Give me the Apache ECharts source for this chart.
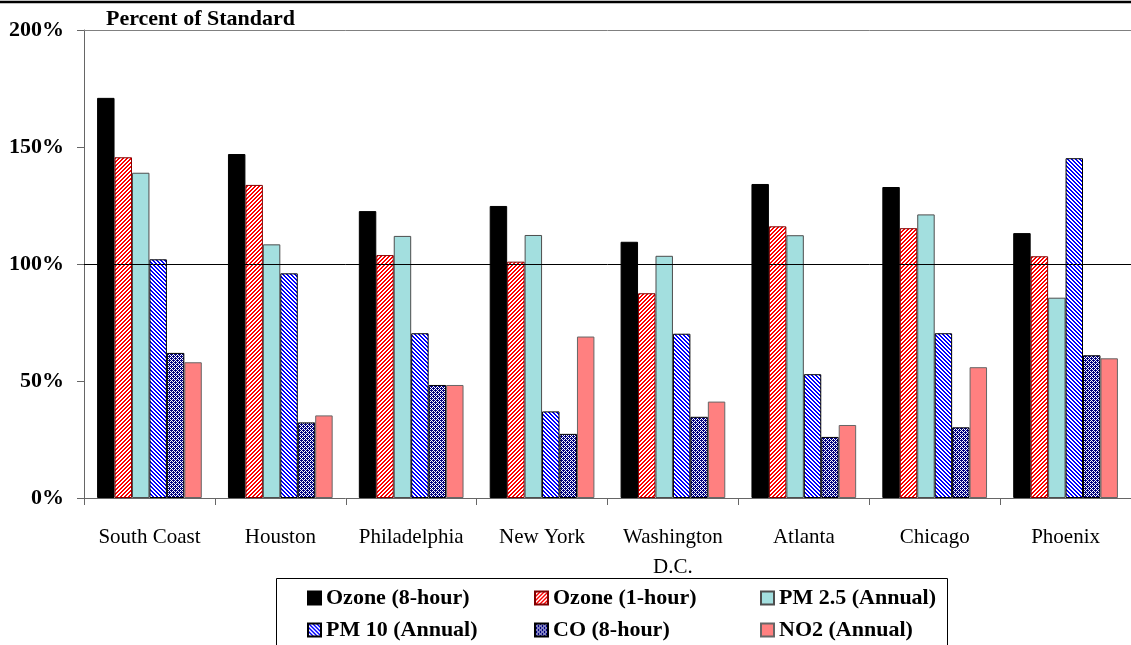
<!DOCTYPE html>
<html>
<head>
<meta charset="utf-8">
<script src="https://cdn.jsdelivr.net/npm/echarts@6/dist/echarts.min.js"></script>
<style>
html,body{margin:0;padding:0;background:#fff;}
#chart{width:1131px;height:645px;}
</style>
</head>
<body>
<div id="chart"></div>
<script>
// ---- data ----
var categories = ['South Coast', 'Houston', 'Philadelphia', 'New York', 'Washington\nD.C.', 'Atlanta', 'Chicago', 'Phoenix'];
var seriesNames = ['Ozone (8-hour)', 'Ozone (1-hour)', 'PM 2.5 (Annual)', 'PM 10 (Annual)', 'CO (8-hour)', 'NO2 (Annual)'];
var ozone8 = [171, 147, 122.6, 124.8, 109.5, 134.2, 132.9, 113.2];
var ozone1 = [145.6, 133.8, 103.8, 101, 87.5, 116.1, 115.3, 103.3];
var pm25   = [139, 108.4, 112, 112.4, 103.5, 112.3, 121.2, 85.6];
var pm10   = [102, 96, 70.4, 37, 70.2, 52.9, 70.4, 145.2];
var co8    = [62, 32.3, 48.3, 27.4, 34.7, 26.1, 30.2, 61];
var no2    = [58, 35.3, 48.3, 69, 41.2, 31.2, 55.9, 59.7];
var yTicks = [0, 50, 100, 150, 200];
var standardLevel = 100;
var axisTop = 200;

// ---- patterns ----
function makePattern(size, fg, bg, test) {
  var c = document.createElement('canvas');
  c.width = size; c.height = size;
  var ctx = c.getContext('2d');
  ctx.fillStyle = bg; ctx.fillRect(0, 0, size, size);
  ctx.fillStyle = fg;
  for (var x = 0; x < size; x++) for (var y = 0; y < size; y++) {
    if (test(x, y)) ctx.fillRect(x, y, 1, 1);
  }
  return { image: c, repeat: 'repeat' };
}
var redStripe = makePattern(4, '#ff0000', '#ffffff', function (x, y) { return (x + y) % 4 < 2; });
var blueStripe = makePattern(4, '#0000ff', '#ffffff', function (x, y) { return ((x - y) % 4 + 4) % 4 < 2; });
var coNet = makePattern(4, '#000080', '#ffffff', function (x, y) { return (x + y) % 2 === 0 || (x === 1 && y === 0) || (x === 3 && y === 2); });

var styles = [
  { color: '#000000', borderColor: '#000000' },
  { color: redStripe, borderColor: '#800000' },
  { color: '#a3dfdf', borderColor: '#4d4d4d' },
  { color: blueStripe, borderColor: '#000000' },
  { color: coNet, borderColor: '#000000' },
  { color: '#ff8080', borderColor: '#666666' }
];
var values = [ozone8, ozone1, pm25, pm10, co8, no2];

var series = seriesNames.map(function (n, i) {
  var s = {
    name: n, type: 'bar', data: values[i],
    barGap: '0%', barCategoryGap: '20%',
    itemStyle: { color: styles[i].color, borderColor: styles[i].borderColor, borderWidth: 1 },
    emphasis: { disabled: true }
  };
  if (i === 0) {
    s.markLine = {
      silent: true, symbol: 'none', label: { show: false },
      data: [
        { yAxis: standardLevel, lineStyle: { color: '#000', width: 1, type: 'solid' } },
        { yAxis: axisTop, lineStyle: { color: '#808080', width: 1, type: 'solid' } }
      ]
    };
  }
  return s;
});

var legendPos = [[307, 587], [534, 587], [760, 587], [307, 619], [534, 619], [760, 619]];
var legends = seriesNames.map(function (n, i) {
  return {
    data: [n], left: legendPos[i][0], top: legendPos[i][1], padding: 0,
    itemWidth: 13, itemHeight: 13, icon: 'rect', selectedMode: false,
    textStyle: { fontFamily: 'Liberation Serif', fontWeight: 'bold', fontSize: 22, color: '#000' }
  };
});

var chart = echarts.init(document.getElementById('chart'), null, { renderer: 'canvas' });
chart.setOption({
  animation: false,
  backgroundColor: '#fff',
  title: {
    text: 'Percent of Standard', left: 106, top: 8, padding: 0,
    textStyle: { fontFamily: 'Liberation Serif', fontWeight: 'bold', fontSize: 22, color: '#000' }
  },
  grid: { left: 84, top: 30, width: 1056, height: 468 },
  legend: legends,
  xAxis: {
    type: 'category', data: categories,
    axisLine: { lineStyle: { color: '#666', width: 1 } },
    axisTick: { show: true, length: 7, lineStyle: { color: '#666' } },
    axisLabel: { interval: 0, margin: 24, fontFamily: 'Liberation Serif', fontSize: 21, color: '#000', lineHeight: 30 }
  },
  yAxis: {
    type: 'value', min: yTicks[0], max: yTicks[yTicks.length - 1], interval: 50,
    axisLine: { show: true, lineStyle: { color: '#666', width: 1 } },
    axisTick: { show: true, length: 7, lineStyle: { color: '#666' } },
    splitLine: { show: false },
    axisLabel: { margin: 20, formatter: '{value}%', fontFamily: 'Liberation Serif', fontWeight: 'bold', fontSize: 22, color: '#000' }
  },
  graphic: [
    { type: 'line', shape: { x1: 0, y1: 2, x2: 1131, y2: 2 }, style: { stroke: '#000', lineWidth: 2.5 } },
    { type: 'rect', shape: { x: 276.5, y: 578.5, width: 671, height: 80 }, style: { fill: 'none', stroke: '#000', lineWidth: 1 } }
  ],
  series: series
});
</script>
</body>
</html>
